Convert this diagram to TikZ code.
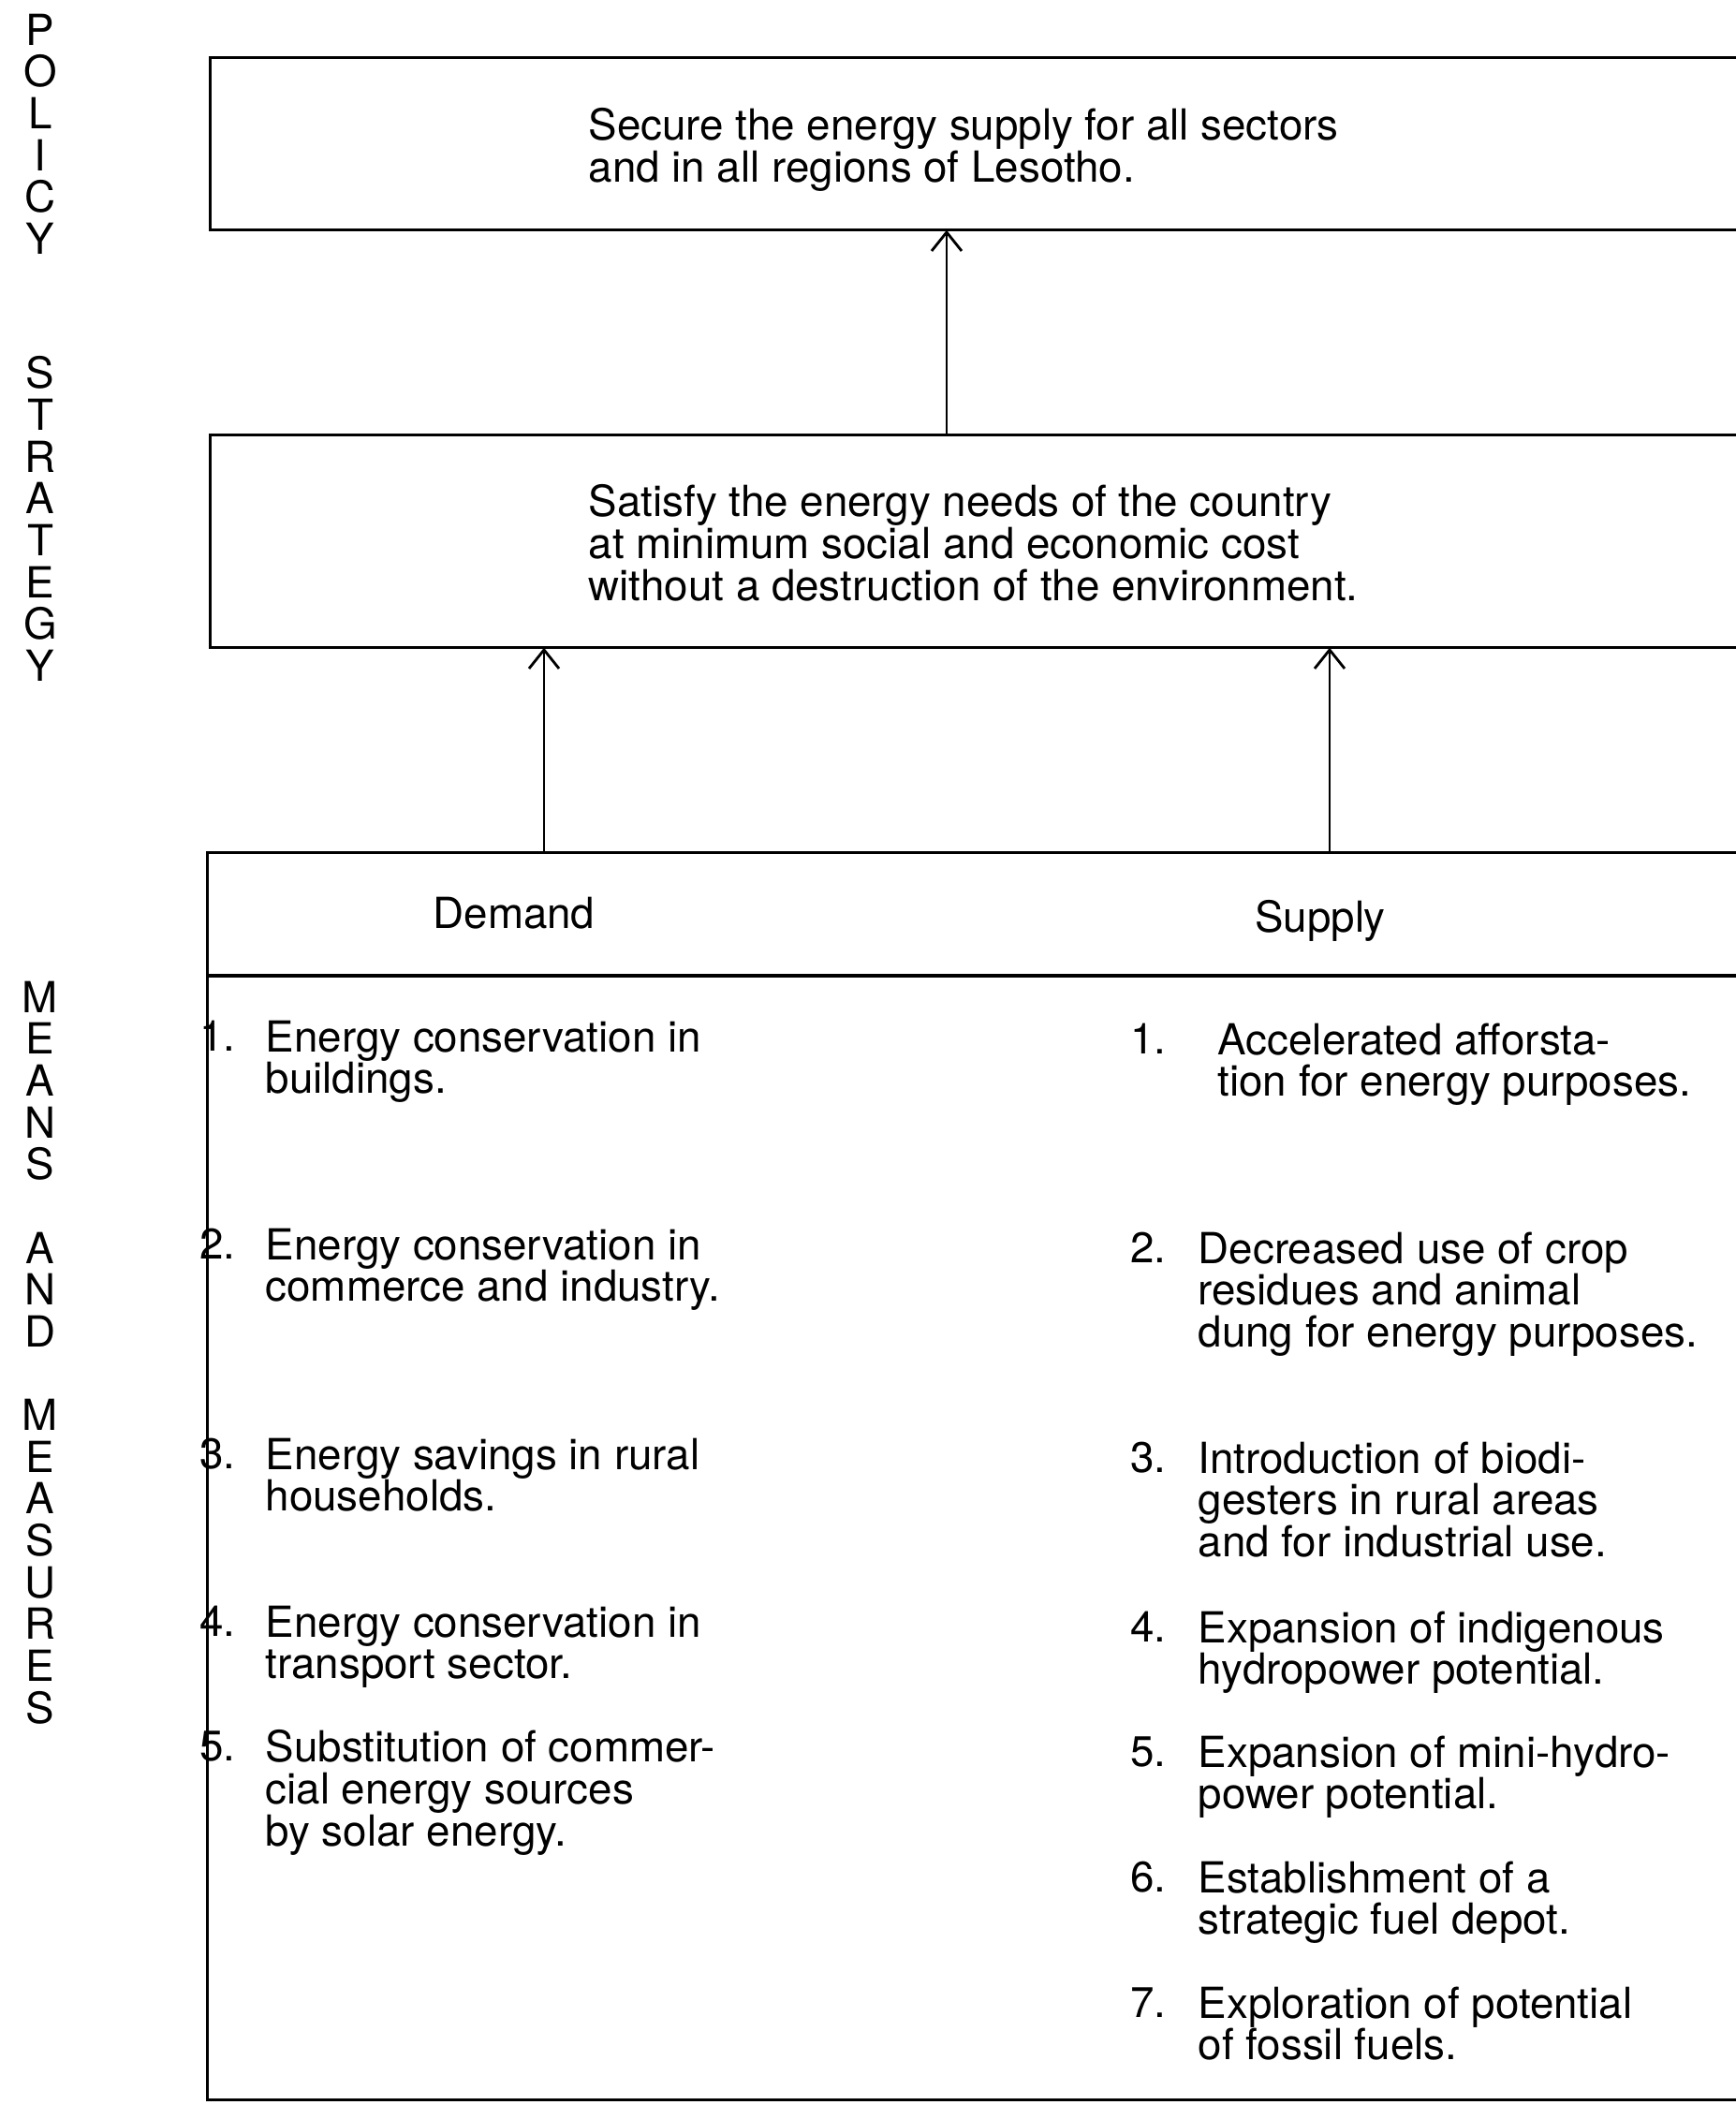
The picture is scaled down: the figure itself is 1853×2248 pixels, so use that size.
\documentclass[tikz,border=0pt]{standalone}
\usepackage{fontspec}
\setmainfont{TeX Gyre Heros}
\usetikzlibrary{arrows.meta, fit, positioning}

\tikzset{
  txt/.style={inner sep=0pt, align=left, font=\fontsize{13}{12.7}\selectfont},
  sidelbl/.style={inner sep=0pt, align=center, font=\fontsize{13}{12.7}\selectfont},
  frame/.style={line width=0.9pt},
  panel/.style={inner sep=0pt},
  arr/.style={line width=0.8pt, -{Straight Barb[length=2mm, width=3.2mm]}},
}

\begin{document}
\begin{tikzpicture}[x=0.01cm, y=-0.01cm]
\useasboundingbox (0,0) rectangle (1853,2248);

% side labels
\node[sidelbl, anchor=north] (policylbl) at (43,14) {P\\O\\L\\I\\C\\Y};
\node[sidelbl, anchor=north] (strategylbl) at (43,380) {S\\T\\R\\A\\T\\E\\G\\Y};
\node[sidelbl, anchor=north] (meanslbl) at (43,1047)
  {M\\E\\A\\N\\S\\~\\A\\N\\D\\~\\M\\E\\A\\S\\U\\R\\E\\S};

% boxes, open to the right
\path (225,62) coordinate (p1) (1853,245) coordinate (p2);
\node[panel, fit=(p1)(p2)] (policy) {};
\draw[frame] (policy.north east) -- (policy.north west) -- (policy.south west) -- (policy.south east);

\path (225,465) coordinate (s1) (1853,691) coordinate (s2);
\node[panel, fit=(s1)(s2)] (strategy) {};
\draw[frame] (strategy.north east) -- (strategy.north west) -- (strategy.south west) -- (strategy.south east);

\path (222,911) coordinate (m1) (1853,2242) coordinate (m2);
\node[panel, fit=(m1)(m2)] (means) {};
\draw[frame] (means.north east) -- (means.north west) -- (means.south west) -- (means.south east);
\coordinate (hdr) at (222,1042);
\draw[frame] (hdr) -- (hdr -| means.east);

% box texts
\node[txt, anchor=north west] (policytxt) at (628,115)
  {Secure the energy supply for all sectors\\and in all regions of Lesotho.};
\node[txt, anchor=north west] (strategytxt) at (628,517)
  {Satisfy the energy needs of the country\\at minimum social and economic cost\\without a destruction of the environment.};
\node[txt, anchor=base] (demand) at (549,991) {Demand};
\node[txt, anchor=base] (supply) at (1410,995) {Supply};

% demand measures
\foreach \n/\y/\itm in {1/1122/{Energy conservation in\\buildings.},
    2/1344/{Energy conservation in\\commerce and industry.},
    3/1568/{Energy savings in rural\\households.},
    4/1747/{Energy conservation in\\transport sector.},
    5/1880/{Substitution of commer-\\cial energy sources\\by solar energy.}}
{
  \node[txt, anchor=base east] (dnum\n) at (252,\y) {\n.};
  \node[txt, anchor=north west] (ditem\n) at (283,\y-33) {\itm};
}

% supply measures
\foreach \n/\x/\y/\itm in {1/1300/1125/{Accelerated afforsta-\\tion for energy purposes.},
    2/1279/1348/{Decreased use of crop\\residues and animal\\dung for energy purposes.},
    3/1279/1572/{Introduction of biodi-\\gesters in rural areas\\and for industrial use.},
    4/1279/1753/{Expansion of indigenous\\hydropower potential.},
    5/1279/1886/{Expansion of mini-hydro-\\power potential.},
    6/1279/2020/{Establishment of a\\strategic fuel depot.},
    7/1279/2154/{Exploration of potential\\of fossil fuels.}}
{
  \node[txt, anchor=base east] (snum\n) at (1246,\y) {\n.};
  \node[txt, anchor=north west] (sitem\n) at (\x,\y-33) {\itm};
}

% arrows
\coordinate (upmid) at (1011,0);
\coordinate (updem) at (581,0);
\coordinate (upsup) at (1420,0);
\draw[arr] (strategy.north -| upmid) -- (policy.south -| upmid);
\draw[arr] (means.north -| updem) -- (strategy.south -| updem);
\draw[arr] (means.north -| upsup) -- (strategy.south -| upsup);
\end{tikzpicture}
\end{document}
